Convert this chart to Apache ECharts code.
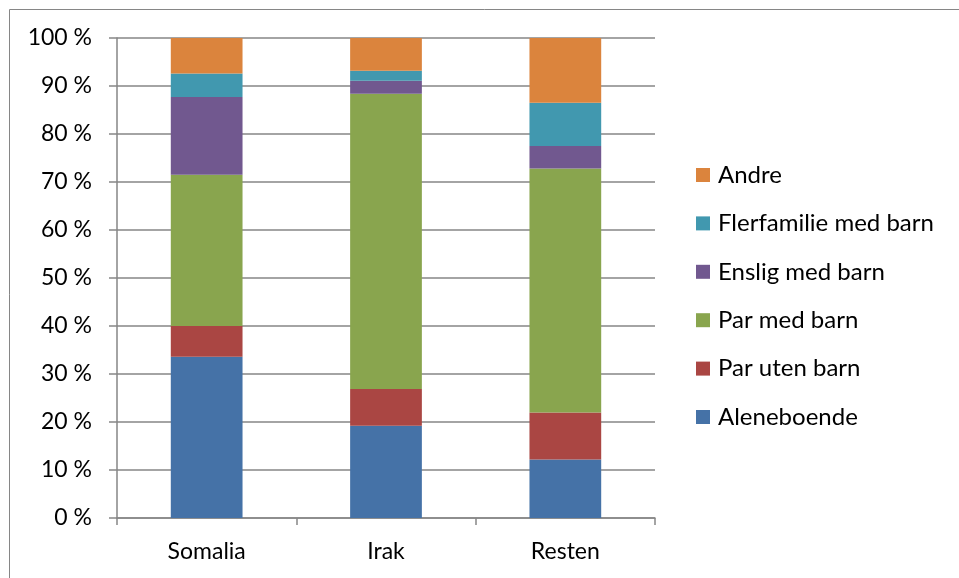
<!DOCTYPE html>
<html>
<head>
<meta charset="utf-8">
<title>Husholdningstype</title>
<script src="https://cdn.jsdelivr.net/npm/echarts@6/dist/echarts.min.js"></script>
<style>
html,body{margin:0;padding:0;background:#fff;}
#chart{width:959px;height:578px;}
</style>
</head>
<body>
<div id="chart"></div>
<script>
var categories = ['Somalia', 'Irak', 'Resten'];
var seriesNames = ['Aleneboende', 'Par uten barn', 'Par med barn', 'Enslig med barn', 'Flerfamilie med barn', 'Andre'];
var aleneboende = [33.6, 19.2, 12.2];
var parUtenBarn = [6.4, 7.7, 9.8];
var parMedBarn = [31.5, 61.5, 50.8];
var ensligMedBarn = [16.2, 2.7, 4.7];
var flerfamilie = [4.9, 2.1, 9.0];
var andre = [7.4, 6.8, 13.5];
var colors = ['#4572A7', '#AA4643', '#89A54E', '#71588F', '#4198AF', '#DB843D'];

var values = [aleneboende, parUtenBarn, parMedBarn, ensligMedBarn, flerfamilie, andre];
var font = 'Lato, "Open Sans", sans-serif';

var series = [];
for (var i = 0; i < seriesNames.length; i++) {
	series.push({
		name: seriesNames[i],
		type: 'bar',
		stack: 'total',
		barWidth: '40%',
		data: values[i],
		itemStyle: { color: colors[i] }
	});
}

var myChart = echarts.init(document.getElementById('chart'));
var option = {
	animation: false,
	color: colors,
	graphic: [{
		type: 'rect',
		shape: { x: 9.5, y: 9.5, width: 1000, height: 1000 },
		style: { fill: 'none', stroke: '#868686', lineWidth: 1 },
		silent: true
	}],
	grid: { left: 117, right: 304, top: 38, bottom: 60 },
	legend: {
		orient: 'vertical',
		left: 696,
		top: 163,
		padding: 0,
		itemWidth: 14,
		itemHeight: 14,
		itemGap: 24.4,
		icon: 'rect',
		data: seriesNames.slice().reverse(),
		textStyle: { fontFamily: font, fontSize: 24, lineHeight: 24, color: '#000', padding: [0, 0, 0, 3] }
	},
	xAxis: {
		type: 'category',
		data: categories,
		axisLine: { lineStyle: { color: '#868686', width: 1.5 } },
		axisTick: { show: true, length: 7, lineStyle: { color: '#868686', width: 1.5 } },
		axisLabel: { fontFamily: font, fontSize: 23, color: '#000', margin: 22 }
	},
	yAxis: {
		type: 'value',
		min: 0,
		max: 100,
		interval: 10,
		axisLine: { show: true, lineStyle: { color: '#868686', width: 1.5 } },
		axisTick: { show: true, length: 8, lineStyle: { color: '#868686', width: 1.5 } },
		splitLine: { lineStyle: { color: '#868686', width: 1.5 } },
		axisLabel: { formatter: '{value} %', fontFamily: font, fontSize: 23, color: '#000', margin: 25 }
	},
	series: series
};
myChart.setOption(option);
</script>
</body>
</html>
